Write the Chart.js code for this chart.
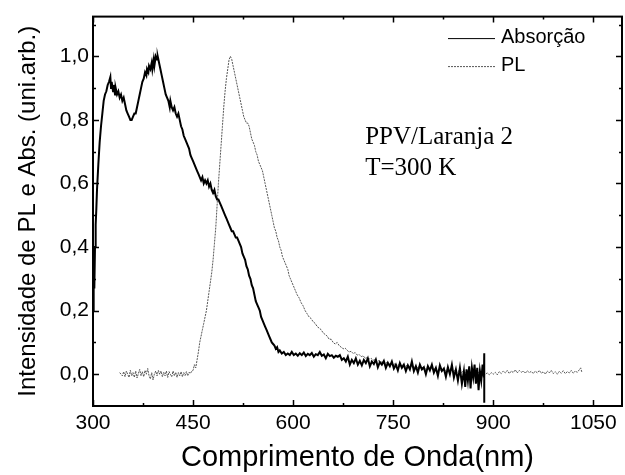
<!DOCTYPE html>
<html>
<head>
<meta charset="utf-8">
<script src="https://cdn.jsdelivr.net/npm/chart.js@4/dist/chart.umd.min.js"></script>
<style>
  html, body { margin: 0; padding: 0; background: #fff; }
  #grafico { display: block; }
</style>
</head>
<body>
<canvas id="grafico" width="625" height="475"></canvas>
<script>
// dados
const absNm = [300,301,302,303,304,305,306,308,310,312,314,316,318,320,322,324,326,327,328,330,331,333,334,336,338,340,342,344,346,348,350,352,354,356,358,360,362,364,366,368,370,372,374,376,378,380,381,383,384,386,388,389,391,392,394,396,397,399,401,403,405,407,409,411,413,415,416,418,420,422,424,426,428,430,432,434,436,438,440,442,444,446,448,450,452,454,456,458,460,462,464,466,468,470,472,474,476,478,480,482,484,486,488,490,492,494,496,498,500,502,504,506,508,510,512,514,516,518,520,522,524,526,528,530,532,534,536,538,540,542,544,546,548,550,552,554,556,558,560,562,564,566,568,570,572,574,576,578,580,583,586,589,592,595,598,601,604,607,610,613,616,619,622,625,628,631,634,637,640,643,646,649,652,655,658,661,664,667,670,673,676,679,682,685,688,691,694,697,700,703,706,709,712,715,718,721,724,727,730,733,736,739,742,745,748,751,754,757,760,763,766,769,772,775,778,781,784,787,790,793,796,799,802,805,808,811,814,817,820,823,826,829,832,835,838,841,844,847,850,853,856,858,860,862,864,866,868,870,872,874,876,878,880,882,884,886,886.5,886.5];
const absVal = [0.20,0.30,0.27,0.40,0.47,0.52,0.58,0.66,0.73,0.78,0.82,0.86,0.88,0.89,0.91,0.92,0.935,0.90,0.92,0.89,0.91,0.88,0.90,0.88,0.89,0.87,0.88,0.86,0.87,0.85,0.83,0.82,0.81,0.80,0.80,0.81,0.82,0.82,0.84,0.86,0.88,0.90,0.92,0.93,0.95,0.94,0.96,0.95,0.97,0.96,0.98,0.96,0.99,0.97,1.00,0.99,1.00,0.98,0.96,0.94,0.92,0.90,0.88,0.87,0.86,0.84,0.86,0.84,0.83,0.84,0.82,0.81,0.82,0.80,0.78,0.77,0.75,0.74,0.73,0.72,0.71,0.69,0.68,0.67,0.66,0.65,0.64,0.63,0.62,0.61,0.62,0.60,0.61,0.60,0.61,0.59,0.60,0.58,0.57,0.58,0.56,0.55,0.55,0.54,0.53,0.52,0.51,0.50,0.49,0.48,0.47,0.46,0.45,0.45,0.44,0.43,0.43,0.42,0.41,0.40,0.38,0.37,0.36,0.34,0.33,0.31,0.30,0.28,0.27,0.25,0.23,0.22,0.21,0.20,0.18,0.17,0.16,0.15,0.14,0.13,0.12,0.11,0.10,0.095,0.09,0.08,0.085,0.07,0.075,0.065,0.07,0.06,0.065,0.06,0.07,0.06,0.065,0.058,0.066,0.06,0.068,0.057,0.064,0.06,0.067,0.055,0.063,0.06,0.07,0.058,0.062,0.05,0.064,0.057,0.06,0.052,0.058,0.055,0.06,0.045,0.05,0.04,0.055,0.03,0.045,0.035,0.05,0.03,0.042,0.028,0.045,0.035,0.05,0.025,0.04,0.032,0.046,0.022,0.038,0.03,0.042,0.02,0.036,0.025,0.04,0.018,0.03,0.012,0.035,0.02,0.03,0.01,0.028,0.015,0.04,0.01,0.025,0.005,0.03,0.015,0.022,0.0,0.025,0.012,0.03,0.005,0.02,-0.005,0.028,0.01,0.018,-0.008,0.022,0.0,0.03,-0.01,0.015,-0.02,0.02,-0.03,0.01,-0.04,0.015,-0.02,0.025,-0.045,0.02,-0.01,0.03,-0.03,0.02,-0.05,0.01,-0.02,0.03,-0.01,0.066,-0.09];

const plNm = [340,342,344,346,348,350,352,354,356,358,360,362,364,366,368,370,372,374,376,378,380,382,384,386,388,390,392,394,396,398,400,402,404,406,408,410,412,414,416,418,420,422,424,426,428,430,432,434,436,438,440,442,444,446,448,450,452,454,456,458,460,462,464,466,468,470,472,474,476,478,480,482,484,486,488,490,492,494,496,498,500,502,504,506,508,510,512,514,516,518,520,522,524,526,528,530,532,534,536,538,540,542,544,546,548,550,552,554,556,558,560,562,564,566,568,570,572,574,576,578,580,582,584,586,588,590,592,594,596,598,600,603,606,609,612,615,618,621,624,627,630,633,636,639,642,645,648,651,654,657,660,663,666,669,672,675,678,681,684,687,690,693,696,699,702,705,708,711,714,717,720,723,726,729,732,735,738,741,744,747,750,753,756,759,762,765,768,771,774,777,780,783,786,789,792,795,798,801,804,807,810,813,816,819,822,825,828,831,834,837,840,843,846,849,852,855,858,861,864,867,870,873,876,879,882,885,888,891,894,897,900,903,906,909,912,915,918,921,924,927,930,933,936,939,942,945,948,951,954,957,960,963,966,969,972,975,978,981,984,987,990,993,996,999,1002,1005,1008,1011,1014,1017,1020,1023,1026,1029,1031,1033];
const plVal = [0.005,0.0,-0.005,0.008,-0.008,0.01,0.0,-0.01,0.012,-0.005,0.005,-0.01,0.01,-0.012,0.002,0.015,-0.005,0.008,-0.008,0.012,0.0,0.018,-0.005,-0.015,0.005,-0.018,0.0,0.01,-0.005,0.012,0.0,0.01,-0.008,0.006,-0.005,0.01,-0.01,0.008,0.0,-0.008,0.01,-0.005,0.006,-0.01,0.005,-0.005,0.008,-0.008,0.005,-0.004,0.008,-0.005,0.006,0.002,0.01,0.012,0.03,0.02,0.045,0.07,0.10,0.12,0.14,0.16,0.18,0.20,0.23,0.26,0.29,0.32,0.36,0.41,0.46,0.53,0.60,0.66,0.72,0.78,0.84,0.89,0.93,0.96,0.99,1.00,0.99,0.97,0.95,0.93,0.91,0.89,0.87,0.85,0.83,0.81,0.80,0.79,0.79,0.78,0.76,0.74,0.73,0.72,0.70,0.69,0.67,0.66,0.65,0.64,0.62,0.60,0.58,0.56,0.54,0.52,0.50,0.48,0.46,0.45,0.43,0.42,0.40,0.39,0.37,0.36,0.35,0.34,0.33,0.31,0.30,0.29,0.28,0.265,0.25,0.24,0.225,0.215,0.20,0.19,0.18,0.175,0.165,0.16,0.15,0.145,0.14,0.13,0.125,0.12,0.11,0.11,0.10,0.095,0.10,0.09,0.085,0.08,0.082,0.075,0.07,0.072,0.065,0.068,0.06,0.062,0.055,0.058,0.05,0.052,0.048,0.05,0.044,0.046,0.04,0.043,0.038,0.04,0.034,0.037,0.032,0.034,0.03,0.033,0.028,0.031,0.026,0.03,0.024,0.028,0.022,0.026,0.02,0.025,0.02,0.024,0.018,0.022,0.016,0.02,0.015,0.02,0.014,0.018,0.012,0.017,0.01,0.016,0.01,0.015,0.008,0.014,0.008,0.012,0.006,0.012,0.005,0.01,0.004,0.01,0.003,0.009,0.002,0.008,0.002,0.007,0.0,0.006,0.0,0.004,-0.002,0.005,0.0,0.006,-0.002,0.008,0.002,0.01,0.004,0.012,0.002,0.01,0.005,0.014,0.004,0.012,0.006,0.01,0.003,0.011,0.005,0.009,0.002,0.01,0.004,0.012,0.003,0.008,0.0,0.01,0.004,0.012,0.002,0.008,0.0,0.009,0.003,0.011,0.002,0.008,0.004,0.012,0.003,0.01,0.006,0.014,0.02,0.005];

// ticks dos eixos
const xTicks = [300, 450, 600, 750, 900, 1050];
const xMinor = [375, 525, 675, 825, 975];
const yTicks = [0.0, 0.2, 0.4, 0.6, 0.8, 1.0];
const yMinor = [0.1, 0.3, 0.5, 0.7, 0.9, 1.1];

const legendas = ['Absorção', 'PL'];
const anotacao = ['PPV/Laranja 2', 'T=300 K'];

function juntar(xs, ys) {
    let pts = [];
    for (let i = 0; i < xs.length; i++) {
        pts.push({ x: xs[i], y: ys[i] });
    }
    return pts;
}

// moldura com ticks para dentro, legenda e texto
const moldura = {
    id: 'moldura',
    afterDatasetsDraw(chart) {
        const ctx = chart.ctx;
        const a = chart.chartArea;
        const sx = chart.scales.x;
        const sy = chart.scales.y;
        ctx.save();
        ctx.strokeStyle = '#000';
        ctx.lineWidth = 2;
        ctx.strokeRect(a.left, a.top, a.right - a.left, a.bottom - a.top);

        ctx.lineWidth = 1.5;
        ctx.beginPath();
        xTicks.forEach(v => {
            const px = Math.round(sx.getPixelForValue(v)) + 0.5;
            ctx.moveTo(px, a.bottom); ctx.lineTo(px, a.bottom - 6);
            ctx.moveTo(px, a.top); ctx.lineTo(px, a.top + 6);
        });
        xMinor.forEach(v => {
            const px = Math.round(sx.getPixelForValue(v)) + 0.5;
            ctx.moveTo(px, a.bottom); ctx.lineTo(px, a.bottom - 3);
            ctx.moveTo(px, a.top); ctx.lineTo(px, a.top + 3);
        });
        yTicks.forEach(v => {
            const py = Math.round(sy.getPixelForValue(v)) + 0.5;
            ctx.moveTo(a.left, py); ctx.lineTo(a.left + 6, py);
            ctx.moveTo(a.right, py); ctx.lineTo(a.right - 6, py);
        });
        yMinor.forEach(v => {
            const py = Math.round(sy.getPixelForValue(v)) + 0.5;
            ctx.moveTo(a.left, py); ctx.lineTo(a.left + 3, py);
            ctx.moveTo(a.right, py); ctx.lineTo(a.right - 3, py);
        });
        ctx.stroke();

        // legenda
        ctx.font = '20px "Liberation Sans", Arial, sans-serif';
        ctx.textBaseline = 'middle';
        ctx.fillStyle = '#000';
        chart.data.datasets.forEach((ds, i) => {
            const y = a.top + 22 + i * 28;
            ctx.strokeStyle = ds.borderColor;
            ctx.lineWidth = 1;
            ctx.setLineDash(ds.borderDash || []);
            ctx.beginPath();
            ctx.moveTo(448, y); ctx.lineTo(495, y);
            ctx.stroke();
            ctx.setLineDash([]);
            ctx.fillText(legendas[i], 501, y - 1);
        });

        // texto da amostra
        ctx.font = '25px "Liberation Serif", "Times New Roman", serif';
        ctx.textBaseline = 'alphabetic';
        const tx = sx.getPixelForValue(708);
        ctx.fillText(anotacao[0], tx, sy.getPixelForValue(0.725));
        ctx.fillText(anotacao[1], tx, sy.getPixelForValue(0.628));
        ctx.restore();
    }
};

const config = {
    type: 'scatter',
    data: {
        datasets: [
            {
                label: legendas[0],
                data: juntar(absNm, absVal),
                showLine: true,
                borderColor: '#000',
                borderWidth: 2,
                pointRadius: 0,
                tension: 0
            },
            {
                label: legendas[1],
                data: juntar(plNm, plVal),
                showLine: true,
                borderColor: '#555',
                borderWidth: 1,
                borderDash: [2, 1],
                pointRadius: 0,
                tension: 0
            }
        ]
    },
    options: {
        responsive: false,
        animation: false,
        layout: { padding: { top: 14, right: 3, left: 0, bottom: 0 } },
        plugins: {
            legend: { display: false },
            tooltip: { enabled: false }
        },
        scales: {
            x: {
                type: 'linear',
                min: 300,
                max: 1093,
                afterBuildTicks: s => { s.ticks = xTicks.map(v => ({ value: v })); },
                afterFit: s => { s.height = 69; },
                grid: { display: false, drawTicks: false },
                border: { display: false },
                ticks: {
                    color: '#000',
                    padding: 5,
                    maxRotation: 0,
                    font: { family: '"Liberation Sans", Arial, sans-serif', size: 21 },
                    callback: v => String(v)
                },
                title: {
                    display: true,
                    text: 'Comprimento de Onda(nm)',
                    color: '#000',
                    padding: 0,
                    font: { family: '"Liberation Sans", Arial, sans-serif', size: 29 }
                }
            },
            y: {
                min: -0.1,
                max: 1.125,
                afterBuildTicks: s => { s.ticks = yTicks.map(v => ({ value: v })); },
                afterFit: s => { s.width = 93; },
                grid: { display: false, drawTicks: false },
                border: { display: false },
                ticks: {
                    color: '#000',
                    padding: 4,
                    font: { family: '"Liberation Sans", Arial, sans-serif', size: 21 },
                    callback: v => v.toFixed(1).replace('.', ',')
                },
                title: {
                    display: true,
                    text: 'Intensidade de PL e Abs. (uni.arb.)',
                    color: '#000',
                    padding: { top: 14, bottom: 0 },
                    font: { family: '"Liberation Sans", Arial, sans-serif', size: 24 }
                }
            }
        }
    },
    plugins: [moldura]
};

const meuGrafico = new Chart(document.getElementById('grafico'), config);
</script>
</body>
</html>
